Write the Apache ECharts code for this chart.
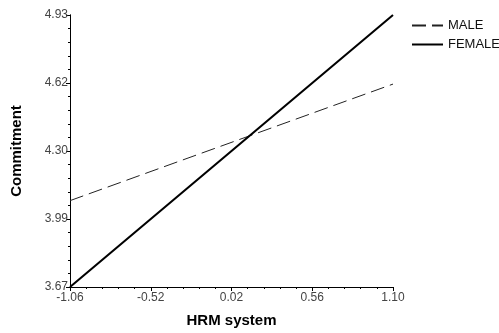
<!DOCTYPE html>
<html><head><meta charset="utf-8">
<script src="https://cdn.jsdelivr.net/npm/echarts@6/dist/echarts.min.js"></script>
<style>html,body{margin:0;padding:0;background:#fff}#c{width:499px;height:333px}</style>
</head><body><div id="c"></div>
<script>
var xEnds = [-1.06, 1.10];
var maleValues = [4.07, 4.61];
var femaleValues = [3.67, 4.93];
var xTicks = [-1.06, -0.52, 0.02, 0.56, 1.10];
var xTickLabels = ['-1.06', '-0.52', '0.02', '0.56', '1.10'];
var yTicks = [3.67, 3.985, 4.30, 4.615, 4.93];
var yTickLabels = ['3.67', '3.99', '4.30', '4.62', '4.93'];
var seriesNames = ['MALE', 'FEMALE'];

function minors(t) {
  var out = [];
  for (var i = 0; i < t.length - 1; i++) {
    for (var k = 1; k < 5; k++) out.push(t[i] + (t[i + 1] - t[i]) * k / 5);
  }
  return out;
}
function pairs(xs, ys) { return xs.map(function (x, i) { return [x, ys[i]]; }); }

var font = 'Liberation Sans, Arial, sans-serif';
var chart = echarts.init(document.getElementById('c'), null, {renderer: 'canvas'});
var axisCommon = {type: 'value', splitLine: {show: false}, axisLine: {show: true, onZero: false, lineStyle: {color: '#000', width: 1}}};
chart.setOption({
  animation: false,
  grid: {left: 70, right: 106, top: 15, bottom: 44, containLabel: false},
  legend: {
    orient: 'vertical', left: 406, top: 14, itemWidth: 31, itemHeight: 12, itemGap: 6,
    textStyle: {fontFamily: font, fontSize: 13, color: '#111'},
    itemStyle: {opacity: 0},
    data: seriesNames
  },
  xAxis: [
    Object.assign({}, axisCommon, {
      min: xTicks[0], max: xTicks[xTicks.length - 1],
      name: 'HRM system', nameLocation: 'middle', nameGap: 26,
      nameTextStyle: {fontFamily: font, fontSize: 15, fontWeight: 'bold', color: '#000'},
      axisTick: {show: true, length: 4, customValues: xTicks, lineStyle: {color: '#000'}},
      axisLabel: {customValues: xTicks, margin: 5, fontFamily: font, fontSize: 12, color: '#444',
        formatter: function (v) { var i = xTicks.indexOf(v); return i >= 0 ? xTickLabels[i] : ''; }}
    }),
    Object.assign({}, axisCommon, {
      min: xTicks[0], max: xTicks[xTicks.length - 1], position: 'bottom',
      axisTick: {show: true, length: 2, customValues: minors(xTicks), lineStyle: {color: '#000'}},
      axisLabel: {show: false}
    })
  ],
  yAxis: [
    Object.assign({}, axisCommon, {
      min: yTicks[0], max: yTicks[yTicks.length - 1],
      name: 'Commitment', nameLocation: 'middle', nameGap: 46, nameRotate: 90,
      nameTextStyle: {fontFamily: font, fontSize: 15, fontWeight: 'bold', color: '#000'},
      axisTick: {show: true, length: 4, customValues: yTicks, lineStyle: {color: '#000'}},
      axisLabel: {customValues: yTicks, margin: 2, fontFamily: font, fontSize: 12, color: '#444',
        formatter: function (v) { var i = yTicks.indexOf(v); return i >= 0 ? yTickLabels[i] : ''; }}
    }),
    Object.assign({}, axisCommon, {
      min: yTicks[0], max: yTicks[yTicks.length - 1], position: 'left',
      axisTick: {show: true, length: 2, customValues: minors(yTicks), lineStyle: {color: '#000'}},
      axisLabel: {show: false}
    })
  ],
  series: [
    {name: seriesNames[0], type: 'line', symbol: 'none', data: pairs(xEnds, maleValues),
      lineStyle: {color: '#222', width: 1, type: [14, 6]}, itemStyle: {color: '#222'}},
    {name: seriesNames[1], type: 'line', symbol: 'none', data: pairs(xEnds, femaleValues),
      lineStyle: {color: '#000', width: 2}, itemStyle: {color: '#000'}}
  ]
});
</script></body></html>
